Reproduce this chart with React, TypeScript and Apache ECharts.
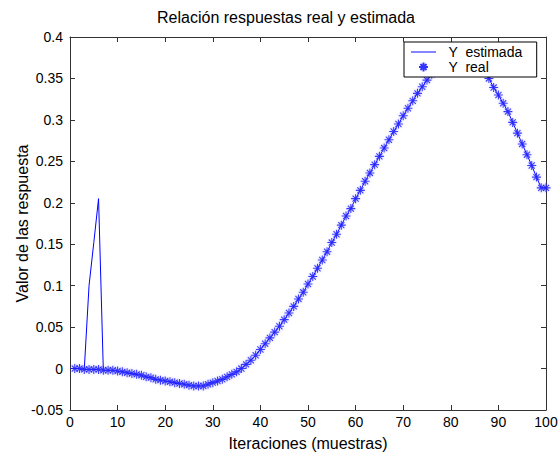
import React, { useEffect, useRef } from "react";
import * as echarts from "echarts";

const iteraciones = [
  1, 2, 3, 4, 5, 6, 7, 8, 9, 10, 11, 12, 13, 14, 15, 16, 17, 18, 19, 20,
  21, 22, 23, 24, 25, 26, 27, 28, 29, 30, 31, 32, 33, 34, 35, 36, 37, 38, 39, 40,
  41, 42, 43, 44, 45, 46, 47, 48, 49, 50, 51, 52, 53, 54, 55, 56, 57, 58, 59, 60,
  61, 62, 63, 64, 65, 66, 67, 68, 69, 70, 71, 72, 73, 74, 75, 76, 77, 78, 79, 80,
  81, 82, 83, 84, 85, 86, 87, 88, 89, 90, 91, 92, 93, 94, 95, 96, 97, 98, 99, 100,
];

const yReal = [
  0.0, 0.0, -0.001, -0.001, -0.001, -0.001, -0.002, -0.002, -0.002, -0.003,
  -0.004, -0.005, -0.006, -0.007, -0.008, -0.01, -0.011, -0.013, -0.014, -0.015,
  -0.016, -0.017, -0.018, -0.019, -0.02, -0.021, -0.021, -0.021, -0.019, -0.017,
  -0.015, -0.013, -0.01, -0.007, -0.004, 0.0, 0.005, 0.01, 0.016, 0.023,
  0.03, 0.037, 0.044, 0.051, 0.059, 0.067, 0.075, 0.084, 0.092, 0.102,
  0.111, 0.121, 0.131, 0.141, 0.152, 0.162, 0.173, 0.184, 0.193, 0.205,
  0.215, 0.226, 0.236, 0.246, 0.256, 0.266, 0.276, 0.286, 0.295, 0.305,
  0.314, 0.323, 0.332, 0.34, 0.348, 0.355, 0.362, 0.368, 0.373, 0.377,
  0.38, 0.381, 0.381, 0.379, 0.375, 0.368, 0.359, 0.35, 0.339, 0.33,
  0.32, 0.31, 0.297, 0.284, 0.271, 0.258, 0.245, 0.231, 0.218, 0.218,
];

const yEstimada = [
  0.0, 0.0, -0.001, 0.1, 0.152, 0.205, -0.002, -0.002, -0.002, -0.003,
  -0.004, -0.005, -0.006, -0.007, -0.008, -0.01, -0.011, -0.013, -0.014, -0.015,
  -0.016, -0.017, -0.018, -0.019, -0.02, -0.021, -0.021, -0.021, -0.019, -0.017,
  -0.015, -0.013, -0.01, -0.007, -0.004, 0.0, 0.005, 0.01, 0.016, 0.023,
  0.03, 0.037, 0.044, 0.051, 0.059, 0.067, 0.075, 0.084, 0.092, 0.102,
  0.111, 0.121, 0.131, 0.141, 0.152, 0.162, 0.173, 0.184, 0.193, 0.205,
  0.215, 0.226, 0.236, 0.246, 0.256, 0.266, 0.276, 0.286, 0.295, 0.305,
  0.314, 0.323, 0.332, 0.34, 0.348, 0.355, 0.362, 0.368, 0.373, 0.377,
  0.38, 0.381, 0.381, 0.379, 0.375, 0.368, 0.359, 0.35, 0.339, 0.33,
  0.32, 0.31, 0.297, 0.284, 0.271, 0.258, 0.245, 0.231, 0.218, 0.218,
];

const seriesNames = ["Y  estimada", "Y  real"];
const titleText = "Relación respuestas real y estimada";
const xAxisTitle = "Iteraciones (muestras)";
const yAxisTitle = "Valor de las respuesta";

const FONT = "'Liberation Sans', Arial, sans-serif";
const AXIS_COLOR = "#333333";
const BLUE = "#0000ff";
const STAR = "path://M0,5L10,5M5,0L5,10M1.6,1.6L8.4,8.4M8.4,1.6L1.6,8.4";
const LINE_ICON = "path://M0,0L26,0L26,1L0,1Z";

export default function App() {
  const ref = useRef<HTMLDivElement>(null);

  useEffect(() => {
    if (!ref.current) return;
    const chart = echarts.init(ref.current, null, { renderer: "svg" });

    const estData = iteraciones.map((x, i) => [x, yEstimada[i]]);
    const realData = iteraciones.map((x, i) => [x, yReal[i]]);

    const fmt = (v: number) => String(+v.toFixed(2));

    const baseX = {
      type: "value" as const,
      min: 0,
      max: 100,
      interval: 10,
      axisLine: { show: true, onZero: false, lineStyle: { color: AXIS_COLOR, width: 1 } },
      axisTick: { show: true, inside: true, length: 5, lineStyle: { color: AXIS_COLOR } },
      splitLine: { show: false },
    };
    const baseY = {
      type: "value" as const,
      min: -0.05,
      max: 0.4,
      interval: 0.05,
      axisLine: { show: true, onZero: false, lineStyle: { color: AXIS_COLOR, width: 1 } },
      axisTick: { show: true, inside: true, length: 5, lineStyle: { color: AXIS_COLOR } },
      splitLine: { show: false },
    };

    chart.setOption({
      animation: false,
      backgroundColor: "#ffffff",
      title: {
        text: titleText,
        left: 286,
        textAlign: "center",
        top: 9,
        padding: 0,
        textStyle: { fontFamily: FONT, fontSize: 16, fontWeight: "normal", color: "#000" },
      },
      legend: {
        data: [
          { name: seriesNames[0], icon: LINE_ICON },
          { name: seriesNames[1] },
        ],
        orient: "vertical",
        left: 404,
        top: 42,
        padding: [3, 14, 3, 7],
        itemWidth: 25,
        itemHeight: 9,
        itemGap: 1,
        backgroundColor: "#ffffff",
        borderColor: "#000000",
        borderWidth: 1,
        formatter: (n: string) => "  " + n,
        textStyle: { fontFamily: FONT, fontSize: 14, color: "#000" },
        z: 10,
      },
      grid: {
        left: 70,
        right: 13,
        top: 37,
        bottom: 43,
        containLabel: false,
        outerBoundsMode: "none",
      },
      xAxis: [
        {
          ...baseX,
          position: "bottom",
          name: xAxisTitle,
          nameLocation: "middle",
          nameGap: 25,
          nameMoveOverlap: false,
          nameTextStyle: { fontFamily: FONT, fontSize: 16, color: "#000" },
          axisLabel: { fontFamily: FONT, fontSize: 14, color: "#000", margin: 5 },
        },
        { ...baseX, position: "top", axisLabel: { show: false } },
      ],
      yAxis: [
        {
          ...baseY,
          position: "left",
          name: yAxisTitle,
          nameLocation: "middle",
          nameGap: 40,
          nameMoveOverlap: false,
          nameTextStyle: { fontFamily: FONT, fontSize: 16, color: "#000" },
          axisLabel: { fontFamily: FONT, fontSize: 14, color: "#000", margin: 7, formatter: fmt },
        },
        { ...baseY, position: "right", axisLabel: { show: false } },
      ],
      series: [
        {
          name: seriesNames[0],
          type: "line",
          xAxisIndex: 0,
          yAxisIndex: 0,
          data: estData,
          symbol: "none",
          showSymbol: false,
          lineStyle: { color: BLUE, width: 1 },
          itemStyle: { color: BLUE },
          z: 2,
        },
        {
          name: seriesNames[1],
          type: "scatter",
          xAxisIndex: 0,
          yAxisIndex: 0,
          data: realData,
          symbol: STAR,
          symbolSize: 9,
          itemStyle: {
            color: "rgba(0,0,255,0)",
            borderColor: BLUE,
            borderWidth: 1.1,
            shadowBlur: 2,
            shadowColor: "rgba(110,110,255,0.55)",
          },
          z: 3,
        },
      ],
    });

    return () => chart.dispose();
  }, []);

  return <div ref={ref} style={{ width: 559, height: 453, position: "absolute", left: 0, top: 0 }} />;
}
